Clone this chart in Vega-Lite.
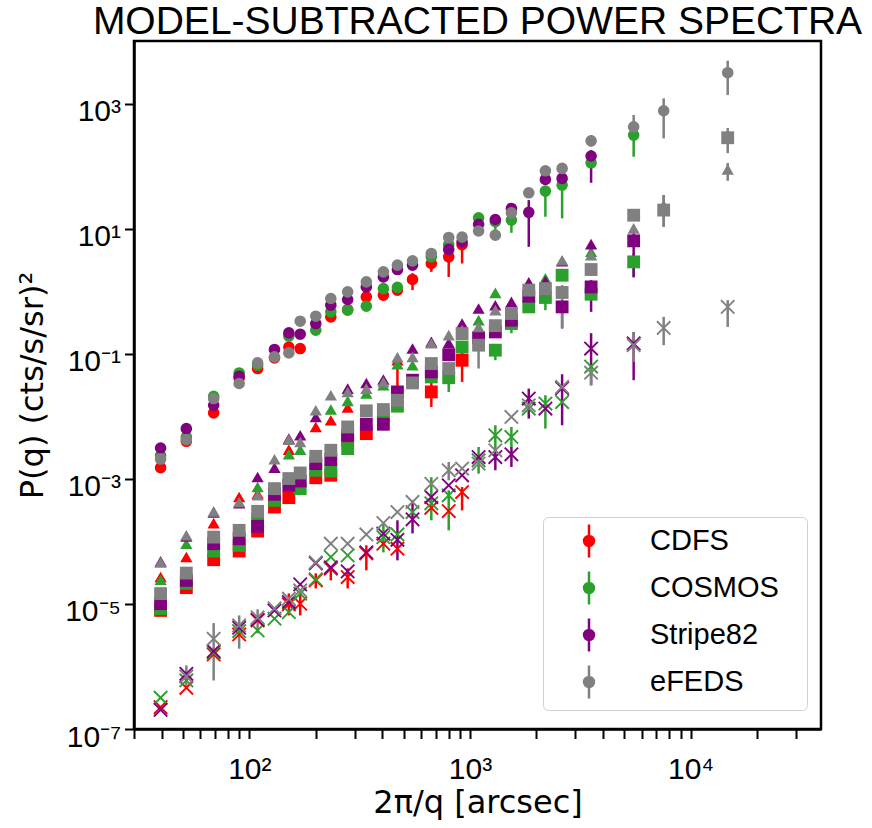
{
"$schema":"https://vega.github.io/schema/vega-lite/v6.json",
"width":687,"height":688,
"autosize":{"type":"none"},
"padding":{"left":134,"top":41,"right":51,"bottom":99},
"background":"white",
"title":{"text":"MODEL-SUBTRACTED POWER SPECTRA","font":"Liberation Sans","fontSize":39,"fontWeight":"normal","color":"black","anchor":"middle","frame":"group","baseline":"bottom","offset":2,"dy":42},
"config":{"view":{"stroke":"black","strokeWidth":2.5},
"axis":{"grid":false,"domainColor":"black","domainWidth":2.5,"tickColor":"black","tickWidth":2,"labelColor":"black","titleColor":"black","labelFont":"Liberation Sans","labelFontSize":30,"titleFont":"DejaVu Sans","titleFontSize":32,"titleFontWeight":"normal","labelOverlap":false}},
"data":{"values":[
{"survey":"CDFS","kind":"circle","x":39.6,"y":0.00151},{"survey":"CDFS","kind":"circle","x":51.8,"y":0.00398},{"survey":"CDFS","kind":"circle","x":68.9,"y":0.0113},{"survey":"CDFS","kind":"circle","x":89.9,"y":0.0406},{"survey":"CDFS","kind":"circle","x":109,"y":0.058},{"survey":"CDFS","kind":"circle","x":130,"y":0.0857},{"survey":"CDFS","kind":"circle","x":151,"y":0.128},{"survey":"CDFS","kind":"circle","x":170,"y":0.121},{"survey":"CDFS","kind":"circle","x":234,"y":0.388},{"survey":"CDFS","kind":"circle","x":279,"y":0.509},{"survey":"CDFS","kind":"circle","x":339,"y":0.811},{"survey":"CDFS","kind":"circle","x":405,"y":0.863},{"survey":"CDFS","kind":"circle","x":469,"y":1.04},{"survey":"CDFS","kind":"circle","x":549,"y":1.54,"lo":1.04,"hi":1.94},{"survey":"CDFS","kind":"circle","x":668,"y":2.77,"lo":2.04,"hi":3.37},{"survey":"CDFS","kind":"circle","x":801,"y":3.54,"lo":1.69,"hi":4.53},{"survey":"CDFS","kind":"circle","x":921,"y":5.55,"lo":2.77,"hi":6.55},
{"survey":"CDFS","kind":"triangle","x":39.6,"y":2.69e-5},{"survey":"CDFS","kind":"triangle","x":51.8,"y":5.61e-5},{"survey":"CDFS","kind":"triangle","x":68.9,"y":1.96e-4},{"survey":"CDFS","kind":"triangle","x":89.9,"y":5.12e-4},{"survey":"CDFS","kind":"triangle","x":109,"y":5.8e-4},{"survey":"CDFS","kind":"triangle","x":151,"y":2.93e-3},{"survey":"CDFS","kind":"triangle","x":200,"y":6.75e-3},{"survey":"CDFS","kind":"triangle","x":234,"y":8.63e-3},{"survey":"CDFS","kind":"triangle","x":279,"y":0.0138},{"survey":"CDFS","kind":"triangle","x":469,"y":0.0787,"lo":0.0231,"hi":0.0888},
{"survey":"CDFS","kind":"square","x":39.6,"y":7.87e-6},{"survey":"CDFS","kind":"square","x":51.8,"y":1.82e-5},{"survey":"CDFS","kind":"square","x":68.9,"y":5.09e-5},{"survey":"CDFS","kind":"square","x":89.9,"y":7.0e-5},{"survey":"CDFS","kind":"square","x":109,"y":1.46e-4},{"survey":"CDFS","kind":"square","x":130,"y":3.54e-4},{"survey":"CDFS","kind":"square","x":151,"y":5.0e-4},{"survey":"CDFS","kind":"square","x":200,"y":1.04e-3},{"survey":"CDFS","kind":"square","x":234,"y":1.14e-3},{"survey":"CDFS","kind":"square","x":279,"y":4.13e-3},{"survey":"CDFS","kind":"square","x":339,"y":5.28e-3},{"survey":"CDFS","kind":"square","x":668,"y":0.0245,"lo":0.0141,"hi":0.0377},{"survey":"CDFS","kind":"square","x":921,"y":0.0787,"lo":0.0354,"hi":0.114},
{"survey":"CDFS","kind":"cross","x":39.6,"y":2.23e-7},{"survey":"CDFS","kind":"cross","x":51.8,"y":4.56e-7},{"survey":"CDFS","kind":"cross","x":68.9,"y":1.56e-6},{"survey":"CDFS","kind":"cross","x":89.9,"y":3.25e-6},{"survey":"CDFS","kind":"cross","x":109,"y":5.45e-6},{"survey":"CDFS","kind":"cross","x":151,"y":9.82e-6,"lo":6.55e-6,"hi":1.47e-5},{"survey":"CDFS","kind":"cross","x":170,"y":1.01e-5,"lo":6.55e-6,"hi":1.46e-5},{"survey":"CDFS","kind":"cross","x":200,"y":2.38e-5,"lo":1.77e-5,"hi":3.08e-5},{"survey":"CDFS","kind":"cross","x":234,"y":3.66e-5,"lo":2.38e-5,"hi":3.9e-5},{"survey":"CDFS","kind":"cross","x":279,"y":2.69e-5,"lo":1.77e-5,"hi":3.7e-5},{"survey":"CDFS","kind":"cross","x":339,"y":6.43e-5,"lo":3.44e-5,"hi":8.63e-5},{"survey":"CDFS","kind":"cross","x":405,"y":9.18e-5},{"survey":"CDFS","kind":"cross","x":469,"y":7.64e-5},{"survey":"CDFS","kind":"cross","x":668,"y":3.44e-4},{"survey":"CDFS","kind":"cross","x":801,"y":3.05e-4},{"survey":"CDFS","kind":"cross","x":921,"y":6.15e-4,"lo":3.13e-4,"hi":7.39e-4},
{"survey":"COSMOS","kind":"circle","x":39.6,"y":2.38e-3},{"survey":"COSMOS","kind":"circle","x":51.8,"y":4.67e-3},{"survey":"COSMOS","kind":"circle","x":68.9,"y":0.0209},{"survey":"COSMOS","kind":"circle","x":89.9,"y":0.0493},{"survey":"COSMOS","kind":"circle","x":109,"y":0.0655},{"survey":"COSMOS","kind":"circle","x":151,"y":0.191},{"survey":"COSMOS","kind":"circle","x":200,"y":0.238},{"survey":"COSMOS","kind":"circle","x":234,"y":0.467},{"survey":"COSMOS","kind":"circle","x":279,"y":0.497},{"survey":"COSMOS","kind":"circle","x":339,"y":0.575},{"survey":"COSMOS","kind":"circle","x":405,"y":1.10},{"survey":"COSMOS","kind":"circle","x":469,"y":1.15},{"survey":"COSMOS","kind":"circle","x":668,"y":3.54},{"survey":"COSMOS","kind":"circle","x":801,"y":5.55},{"survey":"COSMOS","kind":"circle","x":1094,"y":14.9},{"survey":"COSMOS","kind":"circle","x":1303,"y":12.9,"lo":8.57,"hi":14.5},{"survey":"COSMOS","kind":"circle","x":1541,"y":13.7,"lo":8.57,"hi":15},{"survey":"COSMOS","kind":"circle","x":2197,"y":39.8,"lo":15.5,"hi":44},{"survey":"COSMOS","kind":"circle","x":2616,"y":49.7,"lo":14.6,"hi":55},{"survey":"COSMOS","kind":"circle","x":3540,"y":113},{"survey":"COSMOS","kind":"circle","x":5520,"y":313,"lo":141,"hi":340},
{"survey":"COSMOS","kind":"triangle","x":39.6,"y":2.44e-5},{"survey":"COSMOS","kind":"triangle","x":51.8,"y":9.18e-5},{"survey":"COSMOS","kind":"triangle","x":109,"y":7.39e-4},{"survey":"COSMOS","kind":"triangle","x":151,"y":2.47e-3},{"survey":"COSMOS","kind":"triangle","x":170,"y":2.93e-3},{"survey":"COSMOS","kind":"triangle","x":234,"y":0.0128},{"survey":"COSMOS","kind":"triangle","x":279,"y":0.0176},{"survey":"COSMOS","kind":"triangle","x":339,"y":0.0231},{"survey":"COSMOS","kind":"triangle","x":405,"y":0.0313},{"survey":"COSMOS","kind":"triangle","x":469,"y":0.0679},{"survey":"COSMOS","kind":"triangle","x":549,"y":0.0655},{"survey":"COSMOS","kind":"triangle","x":1094,"y":0.344},{"survey":"COSMOS","kind":"triangle","x":1303,"y":0.94},{"survey":"COSMOS","kind":"triangle","x":2197,"y":1.60},{"survey":"COSMOS","kind":"triangle","x":3540,"y":4.26},
{"survey":"COSMOS","kind":"square","x":39.6,"y":8.38e-6},{"survey":"COSMOS","kind":"square","x":51.8,"y":2.13e-5},{"survey":"COSMOS","kind":"square","x":68.9,"y":7.0e-5},{"survey":"COSMOS","kind":"square","x":89.9,"y":8.63e-5},{"survey":"COSMOS","kind":"square","x":109,"y":2.17e-4},{"survey":"COSMOS","kind":"square","x":130,"y":4.53e-4},{"survey":"COSMOS","kind":"square","x":170,"y":6.97e-4},{"survey":"COSMOS","kind":"square","x":200,"y":1.37e-3},{"survey":"COSMOS","kind":"square","x":234,"y":1.33e-3},{"survey":"COSMOS","kind":"square","x":279,"y":3.04e-3},{"survey":"COSMOS","kind":"square","x":405,"y":0.0104},{"survey":"COSMOS","kind":"square","x":469,"y":0.0145},{"survey":"COSMOS","kind":"square","x":668,"y":0.0426},{"survey":"COSMOS","kind":"square","x":801,"y":0.0413,"lo":0.0245,"hi":0.046},{"survey":"COSMOS","kind":"square","x":921,"y":0.128},{"survey":"COSMOS","kind":"square","x":1303,"y":0.114,"lo":0.0787,"hi":0.125},{"survey":"COSMOS","kind":"square","x":1541,"y":0.304,"lo":0.213,"hi":0.33},{"survey":"COSMOS","kind":"square","x":1847,"y":0.561},{"survey":"COSMOS","kind":"square","x":2197,"y":0.793,"lo":0.497,"hi":0.85},{"survey":"COSMOS","kind":"square","x":2616,"y":1.80},{"survey":"COSMOS","kind":"square","x":3540,"y":0.895},{"survey":"COSMOS","kind":"square","x":5520,"y":2.94,"lo":1.67,"hi":4.06},
{"survey":"COSMOS","kind":"cross","x":39.6,"y":3.16e-7},{"survey":"COSMOS","kind":"cross","x":51.8,"y":5.97e-7},{"survey":"COSMOS","kind":"cross","x":68.9,"y":1.67e-6},{"survey":"COSMOS","kind":"cross","x":89.9,"y":3.67e-6},{"survey":"COSMOS","kind":"cross","x":109,"y":3.77e-6},{"survey":"COSMOS","kind":"cross","x":130,"y":5.8e-6},{"survey":"COSMOS","kind":"cross","x":151,"y":7.39e-6},{"survey":"COSMOS","kind":"cross","x":170,"y":1.46e-5},{"survey":"COSMOS","kind":"cross","x":200,"y":2.47e-5},{"survey":"COSMOS","kind":"cross","x":234,"y":5.61e-5},{"survey":"COSMOS","kind":"cross","x":279,"y":5.97e-5},{"survey":"COSMOS","kind":"cross","x":405,"y":1.17e-4,"lo":6.67e-5,"hi":2.01e-4},{"survey":"COSMOS","kind":"cross","x":469,"y":1.29e-4},{"survey":"COSMOS","kind":"cross","x":549,"y":2.94e-4},{"survey":"COSMOS","kind":"cross","x":668,"y":4.06e-4,"lo":2.17e-4,"hi":1.06e-3},{"survey":"COSMOS","kind":"cross","x":801,"y":5.45e-4,"lo":1.5e-4,"hi":6.55e-4},{"survey":"COSMOS","kind":"cross","x":1094,"y":1.98e-3,"lo":1.21e-3,"hi":3.23e-3},{"survey":"COSMOS","kind":"cross","x":1303,"y":4.97e-3,"lo":2.86e-3,"hi":7.18e-3},{"survey":"COSMOS","kind":"cross","x":1541,"y":4.67e-3,"lo":3.23e-3,"hi":6.75e-3},{"survey":"COSMOS","kind":"cross","x":1847,"y":0.0133},{"survey":"COSMOS","kind":"cross","x":2197,"y":0.016,"lo":6.36e-3,"hi":0.0217},{"survey":"COSMOS","kind":"cross","x":2616,"y":0.0169},{"survey":"COSMOS","kind":"cross","x":3540,"y":0.0624},
{"survey":"Stripe82","kind":"circle","x":39.6,"y":3.11e-3},{"survey":"Stripe82","kind":"circle","x":51.8,"y":6.36e-3},{"survey":"Stripe82","kind":"circle","x":68.9,"y":0.015},{"survey":"Stripe82","kind":"circle","x":89.9,"y":0.0437},{"survey":"Stripe82","kind":"circle","x":130,"y":0.117},{"survey":"Stripe82","kind":"circle","x":151,"y":0.215},{"survey":"Stripe82","kind":"circle","x":170,"y":0.205},{"survey":"Stripe82","kind":"circle","x":200,"y":0.304},{"survey":"Stripe82","kind":"circle","x":234,"y":0.597},{"survey":"Stripe82","kind":"circle","x":279,"y":0.736},{"survey":"Stripe82","kind":"circle","x":339,"y":1.17},{"survey":"Stripe82","kind":"circle","x":405,"y":1.69},{"survey":"Stripe82","kind":"circle","x":469,"y":2.22},{"survey":"Stripe82","kind":"circle","x":549,"y":2.61},{"survey":"Stripe82","kind":"circle","x":801,"y":4.65},{"survey":"Stripe82","kind":"circle","x":921,"y":6.15},{"survey":"Stripe82","kind":"circle","x":1094,"y":11.7},{"survey":"Stripe82","kind":"circle","x":1303,"y":14.0},{"survey":"Stripe82","kind":"circle","x":1541,"y":21.0},{"survey":"Stripe82","kind":"circle","x":1847,"y":18.2,"lo":5.12,"hi":28.6},{"survey":"Stripe82","kind":"circle","x":2197,"y":61.2},{"survey":"Stripe82","kind":"circle","x":2616,"y":63.6},{"survey":"Stripe82","kind":"circle","x":3540,"y":145,"lo":54.1,"hi":180},
{"survey":"Stripe82","kind":"triangle","x":39.6,"y":4.79e-5},{"survey":"Stripe82","kind":"triangle","x":51.8,"y":1.2e-4},{"survey":"Stripe82","kind":"triangle","x":68.9,"y":2.91e-4},{"survey":"Stripe82","kind":"triangle","x":89.9,"y":4.06e-4},{"survey":"Stripe82","kind":"triangle","x":109,"y":1.07e-3},{"survey":"Stripe82","kind":"triangle","x":130,"y":1.51e-3},{"survey":"Stripe82","kind":"triangle","x":151,"y":4.4e-3},{"survey":"Stripe82","kind":"triangle","x":170,"y":4.97e-3},{"survey":"Stripe82","kind":"triangle","x":200,"y":9.75e-3},{"survey":"Stripe82","kind":"triangle","x":279,"y":0.0277},{"survey":"Stripe82","kind":"triangle","x":339,"y":0.0341},{"survey":"Stripe82","kind":"triangle","x":405,"y":0.0387},{"survey":"Stripe82","kind":"triangle","x":549,"y":0.121},{"survey":"Stripe82","kind":"triangle","x":668,"y":0.155},{"survey":"Stripe82","kind":"triangle","x":801,"y":0.149},{"survey":"Stripe82","kind":"triangle","x":921,"y":0.304},{"survey":"Stripe82","kind":"triangle","x":1094,"y":0.528},{"survey":"Stripe82","kind":"triangle","x":1303,"y":0.597},{"survey":"Stripe82","kind":"triangle","x":1541,"y":0.674},{"survey":"Stripe82","kind":"triangle","x":1847,"y":1.39},{"survey":"Stripe82","kind":"triangle","x":2197,"y":1.45},{"survey":"Stripe82","kind":"triangle","x":2616,"y":3.02},{"survey":"Stripe82","kind":"triangle","x":3540,"y":5.65},{"survey":"Stripe82","kind":"triangle","x":5520,"y":6.97},
{"survey":"Stripe82","kind":"square","x":39.6,"y":1.01e-5},{"survey":"Stripe82","kind":"square","x":51.8,"y":2.38e-5},{"survey":"Stripe82","kind":"square","x":68.9,"y":9.18e-5},{"survey":"Stripe82","kind":"square","x":89.9,"y":1.1e-4},{"survey":"Stripe82","kind":"square","x":109,"y":1.74e-4},{"survey":"Stripe82","kind":"square","x":130,"y":5.65e-4},{"survey":"Stripe82","kind":"square","x":151,"y":7.87e-4},{"survey":"Stripe82","kind":"square","x":170,"y":9.23e-4},{"survey":"Stripe82","kind":"square","x":200,"y":1.75e-3},{"survey":"Stripe82","kind":"square","x":234,"y":2.03e-3},{"survey":"Stripe82","kind":"square","x":279,"y":4.97e-3},{"survey":"Stripe82","kind":"square","x":339,"y":7.45e-3},{"survey":"Stripe82","kind":"square","x":405,"y":7.45e-3},{"survey":"Stripe82","kind":"square","x":469,"y":0.0245},{"survey":"Stripe82","kind":"square","x":549,"y":0.0377},{"survey":"Stripe82","kind":"square","x":668,"y":0.0512},{"survey":"Stripe82","kind":"square","x":801,"y":0.0964},{"survey":"Stripe82","kind":"square","x":1094,"y":0.18},{"survey":"Stripe82","kind":"square","x":1303,"y":0.223},{"survey":"Stripe82","kind":"square","x":1541,"y":0.344},{"survey":"Stripe82","kind":"square","x":1847,"y":0.832},{"survey":"Stripe82","kind":"square","x":2616,"y":0.561,"lo":0.253,"hi":0.718},{"survey":"Stripe82","kind":"square","x":3540,"y":1.17,"lo":0.467,"hi":1.5},{"survey":"Stripe82","kind":"square","x":5520,"y":6.38,"lo":1.67,"hi":8.47},
{"survey":"Stripe82","kind":"cross","x":39.6,"y":2.03e-7},{"survey":"Stripe82","kind":"cross","x":51.8,"y":7.64e-7},{"survey":"Stripe82","kind":"cross","x":68.9,"y":1.76e-6},{"survey":"Stripe82","kind":"cross","x":89.9,"y":4.16e-6},{"survey":"Stripe82","kind":"cross","x":109,"y":5.58e-6},{"survey":"Stripe82","kind":"cross","x":130,"y":7.87e-6},{"survey":"Stripe82","kind":"cross","x":151,"y":1.07e-5},{"survey":"Stripe82","kind":"cross","x":170,"y":2.05e-5},{"survey":"Stripe82","kind":"cross","x":200,"y":4.45e-5},{"survey":"Stripe82","kind":"cross","x":234,"y":3.84e-5},{"survey":"Stripe82","kind":"cross","x":279,"y":3.31e-5},{"survey":"Stripe82","kind":"cross","x":339,"y":6.67e-5},{"survey":"Stripe82","kind":"cross","x":405,"y":1.33e-4},{"survey":"Stripe82","kind":"cross","x":469,"y":1.06e-4,"lo":4.97e-5,"hi":2.17e-4},{"survey":"Stripe82","kind":"cross","x":549,"y":2.25e-4,"lo":1.34e-4,"hi":4.53e-4},{"survey":"Stripe82","kind":"cross","x":668,"y":5.12e-4},{"survey":"Stripe82","kind":"cross","x":801,"y":7.87e-4},{"survey":"Stripe82","kind":"cross","x":921,"y":1.14e-3},{"survey":"Stripe82","kind":"cross","x":1094,"y":2.23e-3},{"survey":"Stripe82","kind":"cross","x":1303,"y":2.23e-3,"lo":1.37e-3,"hi":2.86e-3},{"survey":"Stripe82","kind":"cross","x":1541,"y":2.47e-3,"lo":1.55e-3,"hi":3.23e-3},{"survey":"Stripe82","kind":"cross","x":1847,"y":0.0192,"lo":9.18e-3,"hi":0.0277},{"survey":"Stripe82","kind":"cross","x":2197,"y":0.0133},{"survey":"Stripe82","kind":"cross","x":2616,"y":0.0281,"lo":7.18e-3,"hi":0.047},{"survey":"Stripe82","kind":"cross","x":3540,"y":0.121,"lo":0.0313,"hi":0.213},{"survey":"Stripe82","kind":"cross","x":5520,"y":0.146,"lo":0.0377,"hi":0.223},
{"survey":"eFEDS","kind":"circle","x":39.6,"y":2.07e-3},{"survey":"eFEDS","kind":"circle","x":51.8,"y":4.24e-3},{"survey":"eFEDS","kind":"circle","x":68.9,"y":0.0192},{"survey":"eFEDS","kind":"circle","x":89.9,"y":0.0334},{"survey":"eFEDS","kind":"circle","x":109,"y":0.0713},{"survey":"eFEDS","kind":"circle","x":130,"y":0.0889},{"survey":"eFEDS","kind":"circle","x":151,"y":0.103},{"survey":"eFEDS","kind":"circle","x":170,"y":0.331},{"survey":"eFEDS","kind":"circle","x":200,"y":0.398},{"survey":"eFEDS","kind":"circle","x":234,"y":0.764},{"survey":"eFEDS","kind":"circle","x":279,"y":0.975},{"survey":"eFEDS","kind":"circle","x":339,"y":1.41},{"survey":"eFEDS","kind":"circle","x":405,"y":2.04},{"survey":"eFEDS","kind":"circle","x":469,"y":2.61},{"survey":"eFEDS","kind":"circle","x":549,"y":3.05},{"survey":"eFEDS","kind":"circle","x":668,"y":4.01},{"survey":"eFEDS","kind":"circle","x":801,"y":7.23},{"survey":"eFEDS","kind":"circle","x":921,"y":7.31},{"survey":"eFEDS","kind":"circle","x":1094,"y":9.18},{"survey":"eFEDS","kind":"circle","x":1303,"y":7.87,"lo":6.55,"hi":9.46},{"survey":"eFEDS","kind":"circle","x":1541,"y":17.9},{"survey":"eFEDS","kind":"circle","x":1847,"y":37.4},{"survey":"eFEDS","kind":"circle","x":2197,"y":84.1},{"survey":"eFEDS","kind":"circle","x":2616,"y":91.9},{"survey":"eFEDS","kind":"circle","x":3540,"y":254,"lo":204,"hi":313},{"survey":"eFEDS","kind":"circle","x":5520,"y":425,"lo":294,"hi":655},{"survey":"eFEDS","kind":"circle","x":7550,"y":767,"lo":277,"hi":1211},{"survey":"eFEDS","kind":"circle","x":14730,"y":3110,"lo":1368,"hi":4840},
{"survey":"eFEDS","kind":"triangle","x":39.6,"y":4.61e-5},{"survey":"eFEDS","kind":"triangle","x":51.8,"y":1.25e-4},{"survey":"eFEDS","kind":"triangle","x":68.9,"y":3.02e-4},{"survey":"eFEDS","kind":"triangle","x":89.9,"y":4.26e-4},{"survey":"eFEDS","kind":"triangle","x":109,"y":5.45e-4},{"survey":"eFEDS","kind":"triangle","x":130,"y":2.05e-3},{"survey":"eFEDS","kind":"triangle","x":151,"y":4.24e-3},{"survey":"eFEDS","kind":"triangle","x":170,"y":3.88e-3},{"survey":"eFEDS","kind":"triangle","x":200,"y":0.0125},{"survey":"eFEDS","kind":"triangle","x":234,"y":0.0217},{"survey":"eFEDS","kind":"triangle","x":279,"y":0.0245},{"survey":"eFEDS","kind":"triangle","x":339,"y":0.0277},{"survey":"eFEDS","kind":"triangle","x":405,"y":0.0354},{"survey":"eFEDS","kind":"triangle","x":469,"y":0.0879},{"survey":"eFEDS","kind":"triangle","x":549,"y":0.0889},{"survey":"eFEDS","kind":"triangle","x":668,"y":0.147},{"survey":"eFEDS","kind":"triangle","x":801,"y":0.198},{"survey":"eFEDS","kind":"triangle","x":921,"y":0.238},{"survey":"eFEDS","kind":"triangle","x":1094,"y":0.268},{"survey":"eFEDS","kind":"triangle","x":1303,"y":0.497},{"survey":"eFEDS","kind":"triangle","x":2616,"y":3.13},{"survey":"eFEDS","kind":"triangle","x":3540,"y":3.77},{"survey":"eFEDS","kind":"triangle","x":5520,"y":10.1},{"survey":"eFEDS","kind":"triangle","x":7550,"y":23.8,"lo":10.7,"hi":34.4},{"survey":"eFEDS","kind":"triangle","x":14730,"y":88.5,"lo":58.2,"hi":112},
{"survey":"eFEDS","kind":"square","x":39.6,"y":1.46e-5},{"survey":"eFEDS","kind":"square","x":51.8,"y":3.11e-5},{"survey":"eFEDS","kind":"square","x":68.9,"y":1.17e-4},{"survey":"eFEDS","kind":"square","x":89.9,"y":1.5e-4},{"survey":"eFEDS","kind":"square","x":109,"y":3.02e-4},{"survey":"eFEDS","kind":"square","x":130,"y":6.97e-4},{"survey":"eFEDS","kind":"square","x":151,"y":1.01e-3},{"survey":"eFEDS","kind":"square","x":170,"y":1.24e-3},{"survey":"eFEDS","kind":"square","x":200,"y":2.29e-3},{"survey":"eFEDS","kind":"square","x":234,"y":2.86e-3},{"survey":"eFEDS","kind":"square","x":279,"y":6.75e-3},{"survey":"eFEDS","kind":"square","x":339,"y":0.0122},{"survey":"eFEDS","kind":"square","x":405,"y":0.0128},{"survey":"eFEDS","kind":"square","x":469,"y":0.018},{"survey":"eFEDS","kind":"square","x":549,"y":0.0341},{"survey":"eFEDS","kind":"square","x":668,"y":0.0697},{"survey":"eFEDS","kind":"square","x":801,"y":0.058},{"survey":"eFEDS","kind":"square","x":921,"y":0.21},{"survey":"eFEDS","kind":"square","x":1094,"y":0.137,"lo":0.058,"hi":0.18},{"survey":"eFEDS","kind":"square","x":1303,"y":0.281},{"survey":"eFEDS","kind":"square","x":1541,"y":0.44},{"survey":"eFEDS","kind":"square","x":1847,"y":1.04},{"survey":"eFEDS","kind":"square","x":2197,"y":1.10},{"survey":"eFEDS","kind":"square","x":2616,"y":0.953,"lo":0.256,"hi":1.25},{"survey":"eFEDS","kind":"square","x":3540,"y":2.22},{"survey":"eFEDS","kind":"square","x":5520,"y":16.4},{"survey":"eFEDS","kind":"square","x":7550,"y":19.8,"lo":10.7,"hi":34.4},{"survey":"eFEDS","kind":"square","x":14730,"y":284,"lo":161,"hi":406},
{"survey":"eFEDS","kind":"cross","x":51.8,"y":6.92e-7,"lo":4.61e-7,"hi":1.04e-6},{"survey":"eFEDS","kind":"cross","x":68.9,"y":2.77e-6,"lo":5.97e-7,"hi":4.93e-6},{"survey":"eFEDS","kind":"cross","x":89.9,"y":4.53e-6,"lo":1.92e-6,"hi":6.55e-6},{"survey":"eFEDS","kind":"cross","x":109,"y":6.08e-6,"lo":3.37e-6,"hi":8.17e-6},{"survey":"eFEDS","kind":"cross","x":130,"y":8.47e-6},{"survey":"eFEDS","kind":"cross","x":151,"y":1.21e-5},{"survey":"eFEDS","kind":"cross","x":170,"y":1.64e-5},{"survey":"eFEDS","kind":"cross","x":200,"y":4.61e-5},{"survey":"eFEDS","kind":"cross","x":234,"y":9.18e-5},{"survey":"eFEDS","kind":"cross","x":279,"y":9.18e-5},{"survey":"eFEDS","kind":"cross","x":339,"y":1.29e-4},{"survey":"eFEDS","kind":"cross","x":405,"y":1.96e-4},{"survey":"eFEDS","kind":"cross","x":469,"y":2.94e-4},{"survey":"eFEDS","kind":"cross","x":549,"y":4.26e-4},{"survey":"eFEDS","kind":"cross","x":668,"y":8.32e-4},{"survey":"eFEDS","kind":"cross","x":801,"y":1.37e-3,"lo":9.46e-4,"hi":1.86e-3},{"survey":"eFEDS","kind":"cross","x":921,"y":1.46e-3},{"survey":"eFEDS","kind":"cross","x":1094,"y":1.75e-3},{"survey":"eFEDS","kind":"cross","x":1303,"y":2.86e-3},{"survey":"eFEDS","kind":"cross","x":1541,"y":9.75e-3},{"survey":"eFEDS","kind":"cross","x":1847,"y":0.015},{"survey":"eFEDS","kind":"cross","x":2616,"y":0.0294},{"survey":"eFEDS","kind":"cross","x":3540,"y":0.0497,"lo":0.0313,"hi":0.0655},{"survey":"eFEDS","kind":"cross","x":5520,"y":0.137,"lo":0.0739,"hi":0.223},{"survey":"eFEDS","kind":"cross","x":7550,"y":0.258,"lo":0.137,"hi":0.388},{"survey":"eFEDS","kind":"cross","x":14730,"y":0.561,"lo":0.268,"hi":0.718}
]},
"encoding":{
"x":{"field":"x","type":"quantitative","scale":{"type":"log","domain":[30,39000],"nice":false},
"axis":{"values":[30,40,50,60,70,80,90,100,200,300,400,500,600,700,800,900,1000,2000,3000,4000,5000,6000,7000,8000,9000,10000,20000,30000],"labelExpr":"datum.value==100?'10²':datum.value==1000?'10³':datum.value==10000?'10⁴':''","tickSize":9.5,"labelBaseline":"alphabetic","labelPadding":40,"labelFlush":false,"title":"2π/q [arcsec]","titleX":343.5,"titleY":83,"titleBaseline":"alphabetic","titleAlign":"center",
"encode":{"ticks":{"update":{"y2":{"signal":"(datum.value==100||datum.value==1000||datum.value==10000)?9.5:5"}}}}}},
"color":{"field":"survey","type":"nominal","scale":{"domain":["CDFS","COSMOS","Stripe82","eFEDS"],"range":["#ff0000","#2ca02c","#800080","#808080"]}}
},
"layer":[
{"transform":[{"filter":"isValid(datum.lo)"}],
"mark":{"type":"rule","strokeWidth":2.5},
"encoding":{
"y":{"field":"lo","type":"quantitative","scale":{"type":"log","domain":[1e-7,1e4],"nice":false},
"axis":{"values":[1e-7,1e-5,0.001,0.1,10,1000],"labelExpr":"['10⁻⁷','','10⁻⁵','','10⁻³','','10⁻¹','','10¹','','10³','',''][round(log(datum.value)/LN10)+7]","tickSize":9.5,"labelPadding":4,"labelBaseline":"alphabetic","labelOffset":17,"labelFlush":false,"title":"P(q) (cts/s/sr)²","titleX":-92,"titleY":344,"titleBaseline":"alphabetic","titleAlign":"center","titleAngle":270}},
"y2":{"field":"hi"}}},
{"mark":{"type":"point","filled":true,"strokeWidth":0},
"encoding":{
"y":{"field":"y","type":"quantitative","scale":{"type":"log","domain":[1e-7,1e4],"nice":false},
"axis":{"values":[1e-7,1e-5,0.001,0.1,10,1000],"labelExpr":"['10⁻⁷','','10⁻⁵','','10⁻³','','10⁻¹','','10¹','','10³','',''][round(log(datum.value)/LN10)+7]","tickSize":9.5,"labelPadding":4,"labelBaseline":"alphabetic","labelOffset":17,"labelFlush":false,"title":"P(q) (cts/s/sr)²","titleX":-92,"titleY":344,"titleBaseline":"alphabetic","titleAlign":"center","titleAngle":270}},
"color":{"field":"survey","type":"nominal","scale":{"domain":["CDFS","COSMOS","Stripe82","eFEDS"],"range":["#ff0000","#2ca02c","#800080","#808080"]},
"legend":{"title":"\u00a0","titleOrient":"right","titleFontSize":25,"titlePadding":22,"orient":"none","legendX":409,"legendY":476,
"symbolType":"M0,-1L0,1M0.3,0A0.3,0.3,0,1,1,-0.3,0A0.3,0.3,0,1,1,0.3,0Z","symbolSize":1089,"symbolStrokeWidth":2.5,"symbolOffset":22,"symbolOpacity":1,
"labelFont":"Liberation Sans","labelFontSize":29,"labelColor":"black","labelOffset":43,"rowPadding":3,"padding":6,
"strokeColor":"#d0d0d0","fillColor":"white","cornerRadius":5}},
"shape":{"field":"kind","type":"nominal","scale":{"domain":["circle","triangle","square","cross"],"range":["circle","triangle-up","square","M-0.9,-1.1L1.1,0.9L0.9,1.1L-1.1,-0.9ZM0.9,-1.1L1.1,-0.9L-0.9,1.1L-1.1,0.9Z"]},"legend":null},
"size":{"field":"kind","type":"nominal","scale":{"domain":["circle","triangle","square","cross"],"range":[135,180,130,110]},"legend":null},
"opacity":{"field":"kind","type":"nominal","scale":{"domain":["circle","triangle","square","cross"],"range":[1,1,1,0.65]},"legend":null}}}
]
}
